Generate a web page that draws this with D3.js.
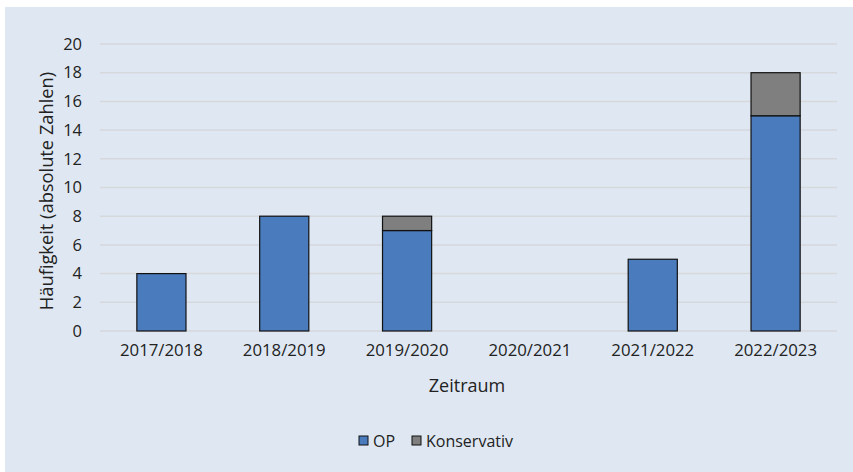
<!DOCTYPE html>
<html>
<head>
<meta charset="utf-8">
<script src="https://cdn.jsdelivr.net/npm/d3@7"></script>
<style>
  body { margin: 0; background: #ffffff; }
  svg { display: block; font-family: "Open Sans", Lato, sans-serif; }
</style>
</head>
<body>
<svg width="853" height="472"></svg>
<script>
const categories = ["2017/2018", "2018/2019", "2019/2020", "2020/2021", "2021/2022", "2022/2023"];
const opValues = [4, 8, 7, 0, 5, 15];
const konsValues = [0, 0, 1, 0, 0, 3];
const yTicks = [0, 2, 4, 6, 8, 10, 12, 14, 16, 18, 20];
const seriesNames = ["OP", "Konservativ"];
const seriesColors = ["#4a7bbd", "#7f7f7f"];

let svg = d3.select("svg");

// light blue panel
svg.append("rect")
  .attr("x", 5).attr("y", 7)
  .attr("width", 848).attr("height", 465)
  .attr("fill", "#dfe8f2");

let plotLeft = 100, plotRight = 837, plotTop = 44, plotBottom = 331;

let xScale = d3.scaleBand()
  .domain(categories)
  .range([plotLeft, plotRight])
  .paddingInner(0.6)
  .paddingOuter(0.3);

let yScale = d3.scaleLinear()
  .domain([0, 20])
  .range([plotBottom, plotTop]);

// gridlines
svg.append("g")
  .selectAll("line")
  .data(yTicks)
  .enter()
  .append("line")
  .attr("x1", plotLeft).attr("x2", plotRight)
  .attr("y1", d => yScale(d)).attr("y2", d => yScale(d))
  .attr("stroke", "#d6d8dc")
  .attr("stroke-width", 1.5);

// stacked data
let rows = categories.map((c, i) => ({ cat: c, OP: opValues[i], Konservativ: konsValues[i] }));
let stacked = d3.stack().keys(seriesNames)(rows);

stacked.forEach((layer, li) => {
  svg.append("g")
    .selectAll("rect")
    .data(layer.filter(d => d[1] > d[0]))
    .enter()
    .append("rect")
    .attr("x", d => xScale(d.data.cat))
    .attr("width", xScale.bandwidth())
    .attr("y", d => yScale(d[1]))
    .attr("height", d => yScale(d[0]) - yScale(d[1]))
    .attr("fill", seriesColors[li])
    .attr("stroke", "#111")
    .attr("stroke-width", 1.2);
});

// y axis labels
let yAxis = d3.axisLeft(yScale).tickValues(yTicks).tickSize(0).tickPadding(0);
let yg = svg.append("g")
  .attr("transform", "translate(82,0)")
  .call(yAxis);
yg.select(".domain").remove();
yg.selectAll("text")
  .attr("font-size", 16.5)
  .attr("font-family", "'Open Sans', Lato, sans-serif")
  .attr("fill", "#222");

// x axis labels
let xAxis = d3.axisBottom(xScale).tickSize(0).tickPadding(0);
let xg = svg.append("g")
  .attr("transform", "translate(0,344)")
  .call(xAxis);
xg.select(".domain").remove();
xg.selectAll("text")
  .attr("font-size", 16.8)
  .attr("font-family", "'Open Sans', Lato, sans-serif")
  .attr("fill", "#222");

// axis titles
svg.append("text")
  .attr("x", 467).attr("y", 392)
  .attr("text-anchor", "middle")
  .attr("font-size", 18)
  .attr("fill", "#222")
  .text("Zeitraum");

svg.append("text")
  .attr("transform", "translate(53,191) rotate(-90)")
  .attr("text-anchor", "middle")
  .attr("font-size", 18.3)
  .attr("fill", "#222")
  .text("Häufigkeit (absolute Zahlen)");

// legend
let legend = svg.append("g").attr("transform", "translate(359,441)");
let legX = [0, 53];
seriesNames.forEach((name, i) => {
  legend.append("rect")
    .attr("x", legX[i]).attr("y", -5)
    .attr("width", 9).attr("height", 9)
    .attr("fill", seriesColors[i])
    .attr("stroke", "#111")
    .attr("stroke-width", 1);
  legend.append("text")
    .attr("x", legX[i] + 14).attr("y", 5.5)
    .attr("font-size", 16)
    .attr("fill", "#222")
    .text(name);
});
</script>
</body>
</html>
